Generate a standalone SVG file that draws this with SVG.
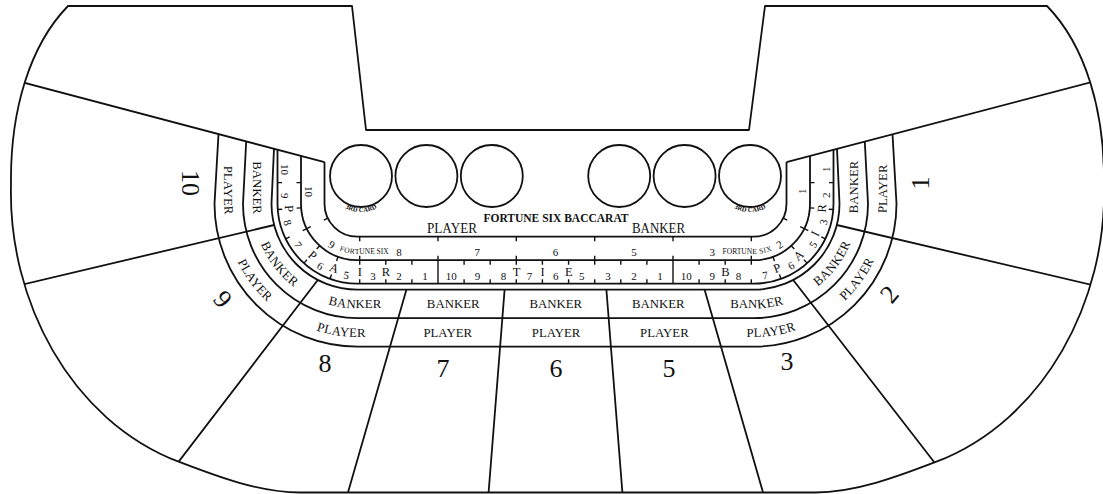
<svg xmlns="http://www.w3.org/2000/svg" width="1103" height="494" viewBox="0 0 1103 494">
<style>
.ln{fill:none;stroke:#111;stroke-width:1.8;stroke-linejoin:round}
.tk{fill:none;stroke:#111;stroke-width:1.4}
text{font-family:"Liberation Serif","Times New Roman",serif;fill:#111;text-anchor:middle}
.n{font-size:11px}
.l{font-size:12.5px}
.fs{font-size:7.5px}
.bd{font-size:12.8px}
.big{font-size:26px}
.lab{font-size:15px}
.card{font-size:6.5px;font-weight:bold}
</style>
<defs>
<path id="outer" d="M352,6 L68,6 C30,45 10,110 11,185 C8,300 70,420 178.6,461.7 C218.6,477.1 260,492.5 300,492.5 L815,492.5 C855,492.5 896.4,477.1 936.4,461.7 C1045,420 1107,300 1104,185 C1105,110 1085,45 1047,6 L765,6 L749,130 L366,130 Z"/>
<clipPath id="tableClip"><use href="#outer"/></clipPath>
<path id="pout" d="M289.25,140 L289.25,203.7 A68.25 68.25 0 0 0 357.5,271.95 L753.5,271.95 A68.25 68.25 0 0 0 821.75,203.7 L821.75,140"/>
<path id="pin" d="M312.75,140 L312.75,203.7 A44.75 44.75 0 0 0 357.5,248.45 L753.5,248.45 A44.75 44.75 0 0 0 798.25,203.7 L798.25,140"/>
<path id="pbk" d="M257.25,120 L257.25,203.7 A100.25 100.25 0 0 0 357.5,303.95 L753.5,303.95 A100.25 100.25 0 0 0 853.75,203.7 L853.75,120"/>
<path id="ppl" d="M228.75,120 L228.75,203.7 A128.75 128.75 0 0 0 357.5,332.45 L753.5,332.45 A128.75 128.75 0 0 0 882.25,203.7 L882.25,120"/>
<path id="c1" d="M337.86,203.58 A36 36 0 0 0 384.14,203.58"/>
<path id="c6" d="M726.86,203.58 A36 36 0 0 0 773.14,203.58"/>
</defs>
<rect width="1103" height="494" fill="#fff"/>

<g id="connectors" clip-path="url(#tableClip)">
<path class="ln" d="M0,76.4 L324.5,162.1 M786.5,162.1 L1103,79 M0,289.9 L274.2,225 M836.8,225 L1103,287.6 M317.8,280 L164.7,479.9 M793.2,280 L948.6,480.7 M406.4,289.7 L345.8,500 M504.6,289.7 L488,500 M606.4,289.7 L623,500 M704.6,289.7 L765.2,500"/>
</g>

<g id="table-outline">
<use href="#outer" class="ln"/>
</g>

<g id="bands">
<path class="ln" d="M274,148.8 L271.5,203.7 A86 86 0 0 0 357.5,289.7 L753.5,289.7 A86 86 0 0 0 839.5,203.7 L837,148.8"/>
<path class="ln" d="M246.2,141.4 L243,203.7 A114.5 114.5 0 0 0 357.5,318.2 L753.5,318.2 A114.5 114.5 0 0 0 868,203.7 L864.8,141.5"/>
<path class="ln" d="M218.5,134.1 L214.5,203.7 A143 143 0 0 0 357.5,346.7 L753.5,346.7 A143 143 0 0 0 896.5,203.7 L892.5,134.3"/>
</g>

<g id="track">
<path class="ln" d="M324.5,162.1 L324.5,203.7 A33 33 0 0 0 357.5,236.7 L753.5,236.7 A33 33 0 0 0 786.5,203.7 L786.5,162.1"/>
<path class="ln" d="M301,155.9 L301,203.7 A56.5 56.5 0 0 0 357.5,260.2 L753.5,260.2 A56.5 56.5 0 0 0 810,203.7 L810,155.9"/>
<path class="ln" d="M277.5,149.7 L277.5,203.7 A80 80 0 0 0 357.5,283.7 L753.5,283.7 A80 80 0 0 0 833.5,203.7 L833.5,149.7"/>
<path class="tk" d="M301,182.6 L296.5,182.6 M277.5,182.6 L282,182.6
M301.15,207.84 L296.66,208.17 M277.72,209.56 L282.2,209.23
M310.8,226.57 L302.72,230.53 M285.66,238.89 L289.7,236.91 M327.87,218.22 L323.82,220.2
M319.7,245.69 L316.68,249.03 M303.97,263.15 L306.98,259.8
M338.08,256.76 L336.53,260.99 M330,278.83 L331.55,274.6
M359.7,236.7 V241.2 M359.7,255.7 V264.7 M359.7,279.2 V283.7
M385.8,260.2 V264.7 M385.8,279.2 V283.7
M411.9,260.2 V264.7 M411.9,279.2 V283.7
M438,236.7 V241.2 M438,255.7 V283.7
M464.1,260.2 V264.7 M464.1,279.2 V283.7
M490.2,260.2 V264.7 M490.2,279.2 V283.7
M516.3,236.7 V241.2 M516.3,255.7 V264.7 M516.3,279.2 V283.7
M542.4,260.2 V264.7 M542.4,279.2 V283.7
M568.6,260.2 V264.7 M568.6,279.2 V283.7
M594.7,236.7 V241.2 M594.7,255.7 V264.7 M594.7,279.2 V283.7
M620.8,260.2 V264.7 M620.8,279.2 V283.7
M646.9,260.2 V264.7 M646.9,279.2 V283.7
M673,236.7 V241.2 M673,255.7 V283.7
M699.1,260.2 V264.7 M699.1,279.2 V283.7
M725.2,260.2 V264.7 M725.2,279.2 V283.7
M751.3,236.7 V241.2 M751.3,255.7 V264.7 M751.3,279.2 V283.7
M772.92,256.76 L774.47,260.99 M781,278.83 L779.45,274.6
M791.3,245.69 L794.32,249.03 M807.03,263.15 L804.02,259.8
M800.2,226.57 L808.28,230.53 M825.34,238.89 L821.3,236.91 M783.13,218.22 L787.18,220.2
M809.85,207.84 L814.34,208.17 M833.28,209.56 L828.8,209.23
M810,182.6 L814.5,182.6 M833.5,182.6 L829,182.6"/>
</g>

<g id="track-outer-labels">
<text class="n" dy="8"><textPath href="#pout" startOffset="29.55">10</textPath></text>
<text class="n" dy="8"><textPath href="#pout" startOffset="55.65">9</textPath></text>
<text class="n" dy="8"><textPath href="#pout" startOffset="81.75">8</textPath></text>
<text class="n" dy="8"><textPath href="#pout" startOffset="105">7</textPath></text>
<text class="n" dy="8"><textPath href="#pout" startOffset="133.95">6</textPath></text>
<text class="n" dy="8"><textPath href="#pout" startOffset="160.05">5</textPath></text>
<text class="n" dy="8"><textPath href="#pout" startOffset="186.15">3</textPath></text>
<text class="n" dy="8"><textPath href="#pout" startOffset="212.25">2</textPath></text>
<text class="n" dy="8"><textPath href="#pout" startOffset="238.35">1</textPath></text>
<text class="n" dy="8"><textPath href="#pout" startOffset="264.51">10</textPath></text>
<text class="n" dy="8"><textPath href="#pout" startOffset="290.61">9</textPath></text>
<text class="n" dy="8"><textPath href="#pout" startOffset="316.71">8</textPath></text>
<text class="n" dy="8"><textPath href="#pout" startOffset="342.81">7</textPath></text>
<text class="n" dy="8"><textPath href="#pout" startOffset="368.91">6</textPath></text>
<text class="n" dy="8"><textPath href="#pout" startOffset="395.01">5</textPath></text>
<text class="n" dy="8"><textPath href="#pout" startOffset="421.11">3</textPath></text>
<text class="n" dy="8"><textPath href="#pout" startOffset="447.21">2</textPath></text>
<text class="n" dy="8"><textPath href="#pout" startOffset="473.31">1</textPath></text>
<text class="n" dy="8"><textPath href="#pout" startOffset="499.47">10</textPath></text>
<text class="n" dy="8"><textPath href="#pout" startOffset="525.57">9</textPath></text>
<text class="n" dy="8"><textPath href="#pout" startOffset="551.67">8</textPath></text>
<text class="n" dy="8"><textPath href="#pout" startOffset="577.77">7</textPath></text>
<text class="n" dy="8"><textPath href="#pout" startOffset="603.87">6</textPath></text>
<text class="n" dy="8"><textPath href="#pout" startOffset="632.8">5</textPath></text>
<text class="n" dy="8"><textPath href="#pout" startOffset="656.07">3</textPath></text>
<text class="n" dy="8"><textPath href="#pout" startOffset="682.17">2</textPath></text>
<text class="n" dy="8"><textPath href="#pout" startOffset="708.27">1</textPath></text>
<text class="l" dy="4.5"><textPath href="#pout" startOffset="68.7">P</textPath></text>
<text class="l" dy="4.5"><textPath href="#pout" startOffset="122">P</textPath></text>
<text class="l" dy="4.5"><textPath href="#pout" startOffset="147">A</textPath></text>
<text class="l" dy="4.5"><textPath href="#pout" startOffset="173.1">I</textPath></text>
<text class="l" dy="4.5"><textPath href="#pout" startOffset="199.2">R</textPath></text>
<text class="l" dy="4.5"><textPath href="#pout" startOffset="329.71">T</textPath></text>
<text class="l" dy="4.5"><textPath href="#pout" startOffset="355.81">I</textPath></text>
<text class="l" dy="4.5"><textPath href="#pout" startOffset="382.01">E</textPath></text>
<text class="l" dy="4.5"><textPath href="#pout" startOffset="538.62">B</textPath></text>
<text class="l" dy="4.5"><textPath href="#pout" startOffset="590.82">P</textPath></text>
<text class="l" dy="4.5"><textPath href="#pout" startOffset="615.8">A</textPath></text>
<text class="l" dy="4.5"><textPath href="#pout" startOffset="643.02">I</textPath></text>
<text class="l" dy="4.5"><textPath href="#pout" startOffset="669.12">R</textPath></text>
</g>

<g id="track-inner-labels">
<text class="n" dy="7.5"><textPath href="#pin" startOffset="51.6">10</textPath></text>
<text class="n" dy="7.5"><textPath href="#pin" startOffset="108.7">9</textPath></text>
<text class="fs" dy="5.5"><textPath href="#pin" startOffset="141">FORTUNE SIX</textPath></text>
<text class="n" dy="7.5"><textPath href="#pin" startOffset="175.34">8</textPath></text>
<text class="n" dy="7.5"><textPath href="#pin" startOffset="253.69">7</textPath></text>
<text class="n" dy="7.5"><textPath href="#pin" startOffset="332">6</textPath></text>
<text class="n" dy="7.5"><textPath href="#pin" startOffset="410.29">5</textPath></text>
<text class="n" dy="7.5"><textPath href="#pin" startOffset="488.66">3</textPath></text>
<text class="fs" dy="5.5"><textPath href="#pin" startOffset="523">FORTUNE SIX</textPath></text>
<text class="n" dy="7.5"><textPath href="#pin" startOffset="555.3">2</textPath></text>
<text class="n" dy="7.5"><textPath href="#pin" startOffset="612.4">1</textPath></text>
</g>

<g id="bet-labels">
<text class="bd" dy="4.5"><textPath href="#pbk" startOffset="67.5">BANKER</textPath></text>
<text class="bd" dy="4.5"><textPath href="#pbk" startOffset="149.3">BANKER</textPath></text>
<text class="bd" dy="4.5"><textPath href="#pbk" startOffset="238.3">BANKER</textPath></text>
<text class="bd" dy="4.5"><textPath href="#pbk" startOffset="336.6">BANKER</textPath></text>
<text class="bd" dy="4.5"><textPath href="#pbk" startOffset="439.17">BANKER</textPath></text>
<text class="bd" dy="4.5"><textPath href="#pbk" startOffset="541.74">BANKER</textPath></text>
<text class="bd" dy="4.5"><textPath href="#pbk" startOffset="640.04">BANKER</textPath></text>
<text class="bd" dy="4.5"><textPath href="#pbk" startOffset="729.04">BANKER</textPath></text>
<text class="bd" dy="4.5"><textPath href="#pbk" startOffset="810.84">BANKER</textPath></text>
<text class="bd" dy="4.5"><textPath href="#ppl" startOffset="70">PLAYER</textPath></text>
<text class="bd" dy="4.5"><textPath href="#ppl" startOffset="165.9">PLAYER</textPath></text>
<text class="bd" dy="4.5"><textPath href="#ppl" startOffset="269.6">PLAYER</textPath></text>
<text class="bd" dy="4.5"><textPath href="#ppl" startOffset="376.1">PLAYER</textPath></text>
<text class="bd" dy="4.5"><textPath href="#ppl" startOffset="484.44">PLAYER</textPath></text>
<text class="bd" dy="4.5"><textPath href="#ppl" startOffset="592.78">PLAYER</textPath></text>
<text class="bd" dy="4.5"><textPath href="#ppl" startOffset="699.28">PLAYER</textPath></text>
<text class="bd" dy="4.5"><textPath href="#ppl" startOffset="802.98">PLAYER</textPath></text>
<text class="bd" dy="4.5"><textPath href="#ppl" startOffset="898.88">PLAYER</textPath></text>
</g>

<g id="card-circles">
<circle class="ln" cx="361" cy="176" r="31"/>
<circle class="ln" cx="426.4" cy="176" r="31"/>
<circle class="ln" cx="491.8" cy="176" r="31"/>
<circle class="ln" cx="619.2" cy="176" r="31"/>
<circle class="ln" cx="684.6" cy="176" r="31"/>
<circle class="ln" cx="750" cy="176" r="31"/>
<text class="card"><textPath href="#c1" startOffset="50%">3RD CARD</textPath></text>
<text class="card"><textPath href="#c6" startOffset="50%">3RD CARD</textPath></text>
</g>

<g id="center-labels">
<text class="lab" x="452" y="233.3" textLength="50" lengthAdjust="spacingAndGlyphs">PLAYER</text>
<text class="lab" x="658.5" y="233.3" textLength="53" lengthAdjust="spacingAndGlyphs">BANKER</text>
<text x="556" y="221.5" font-size="11.5" font-weight="bold">FORTUNE SIX BACCARAT</text>
</g>

<g id="seat-numbers">
<text class="big" transform="translate(191,183) rotate(90)" y="9">10</text>
<text class="big" transform="translate(223,299) rotate(50)" y="9">9</text>
<text class="big" x="325" y="372">8</text>
<text class="big" x="443" y="377">7</text>
<text class="big" x="556" y="377">6</text>
<text class="big" x="669" y="377">5</text>
<text class="big" x="787" y="370">3</text>
<text class="big" transform="translate(889,294) rotate(-50)" y="9">2</text>
<text class="big" transform="translate(920,183) rotate(-90)" y="9">1</text>
</g>
</svg>
